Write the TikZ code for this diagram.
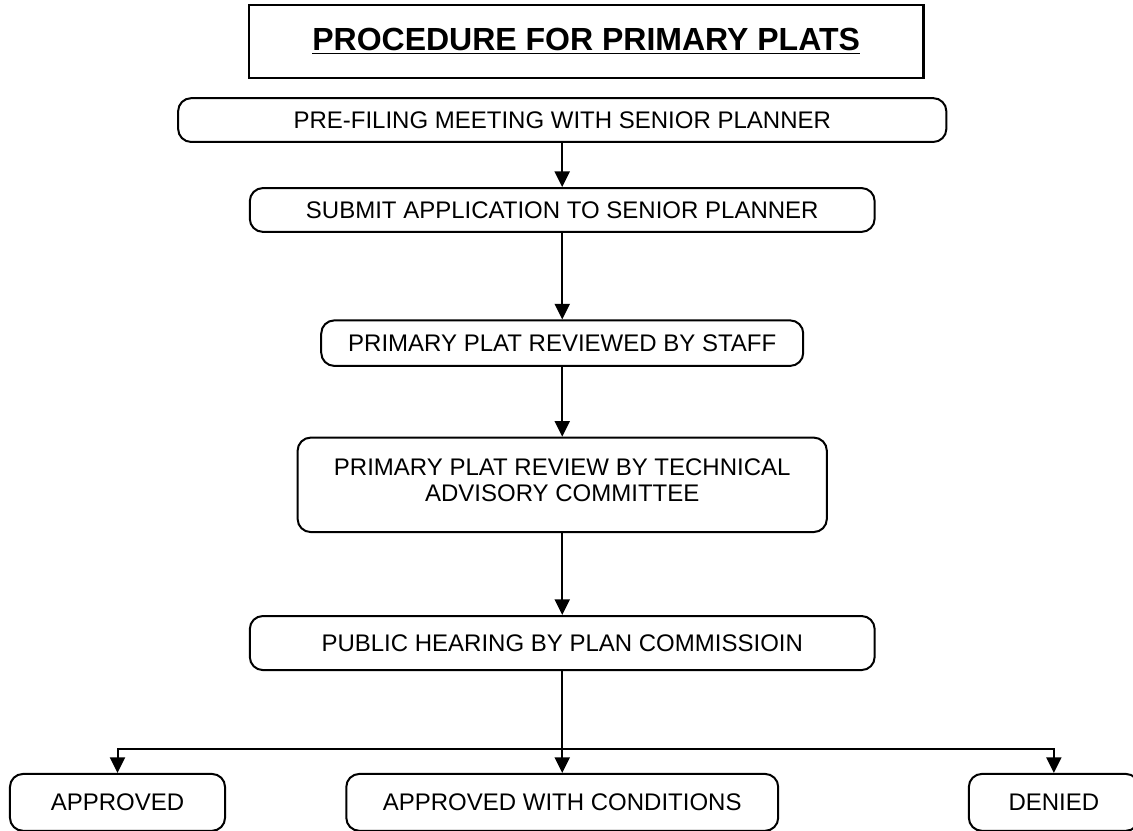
\documentclass[tikz,border=0pt]{standalone}
\usepackage{fontspec}
\setmainfont{Liberation Sans}
\usetikzlibrary{arrows.meta}

\tikzset{
  stepbox/.style={draw, line width=1pt, rounded corners=0.23cm, inner sep=0pt,
    align=center, font=\fontsize{12}{13}\selectfont},
  flow/.style={line width=1pt, -{Triangle[length=7.8pt, width=7.5pt]}}
}

\begin{document}
\begin{tikzpicture}
  \useasboundingbox (0, 0) rectangle (19.91, 14.60);

  % Title
  \node [draw, line width=1.2pt, minimum width=11.85cm, minimum height=1.28cm,
    font=\fontsize{16}{19}\selectfont\bfseries] (title) at (10.30, 13.87)
    {\underline{PROCEDURE FOR PRIMARY PLATS}};

  % Steps
  \node [stepbox, minimum width=13.5cm, minimum height=0.77cm] (prefile)
    at (9.88, 12.49) {PRE-FILING MEETING WITH SENIOR PLANNER};
  \node [stepbox, minimum width=10.98cm, minimum height=0.77cm] (submit)
    at (9.88, 10.91) {SUBMIT APPLICATION TO SENIOR PLANNER};
  \node [stepbox, minimum width=8.47cm, minimum height=0.80cm] (staffreview)
    at (9.88, 8.57) {PRIMARY PLAT REVIEWED BY STAFF};
  \node [stepbox, minimum width=9.3cm, minimum height=1.66cm] (tacreview)
    at (9.88, 6.08) {PRIMARY PLAT REVIEW BY TECHNICAL\\ADVISORY COMMITTEE\\[-8pt]};
  \node [stepbox, minimum width=10.98cm, minimum height=0.95cm] (hearing)
    at (9.88, 3.30) {PUBLIC HEARING BY PLAN COMMISSIOIN};

  % Outcomes
  \node [stepbox, minimum width=3.78cm, minimum height=1.0cm] (approved)
    at (2.065, 0.5) {APPROVED};
  \node [stepbox, minimum width=7.59cm, minimum height=1.0cm] (conditions)
    at (9.88, 0.5) {APPROVED WITH CONDITIONS};
  \node [stepbox, minimum width=2.99cm, minimum height=1.0cm] (denied)
    at (18.52, 0.5) {DENIED};

  % Edges
  \coordinate (branch) at (9.88, 1.44);
  \draw [flow] (prefile) -- (submit);
  \draw [flow] (submit) -- (staffreview);
  \draw [flow] (staffreview) -- (tacreview);
  \draw [flow] (tacreview) -- (hearing);
  \draw [flow] (hearing) -- (conditions);
  \draw [flow, {Triangle[length=7.8pt, width=7.5pt]}-{Triangle[length=7.8pt, width=7.5pt]}]
        (approved.north) |- (branch) -| (denied.north);
\end{tikzpicture}
\end{document}
